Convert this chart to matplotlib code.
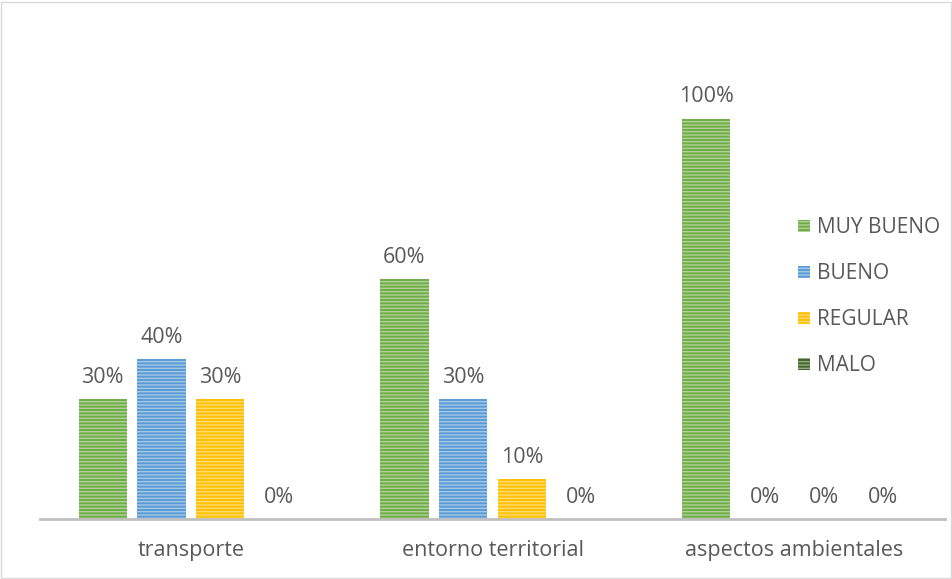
import matplotlib.pyplot as plt
import matplotlib.patches as mpatches
import numpy as np

categorias = ['transporte', 'entorno territorial', 'aspectos ambientales']
series = ['MUY BUENO', 'BUENO', 'REGULAR', 'MALO']
muy_bueno = [0.30, 0.60, 1.00]
bueno = [0.40, 0.30, 0.00]
regular = [0.30, 0.10, 0.00]
malo = [0.00, 0.00, 0.00]
colores = ['#70AD47', '#5B9BD5', '#FFC000', '#43682B']

plt.rcParams['font.family'] = ['Open Sans', 'DejaVu Sans']
plt.rcParams['hatch.linewidth'] = 1.0
texto = '#595959'

fig = plt.figure(figsize=(9.53, 5.79), dpi=100)
ax = fig.add_axes([0.042, 0.1036, 0.95, 0.83])

x = np.arange(len(categorias))
ancho = 0.16
paso = 0.195
valores = [muy_bueno, bueno, regular, malo]

for i, (nombre, vals, col) in enumerate(zip(series, valores, colores)):
    pos = x + (i - 1.5) * paso
    ax.bar(pos, vals, width=ancho, color=col, edgecolor=(1, 1, 1, 0.45),
           hatch='-----', linewidth=0, label=nombre)
    for p, v in zip(pos, vals):
        ax.annotate('%d%%' % round(v * 100), xy=(p, v), xytext=(0, 8),
                    textcoords='offset points', ha='center', va='bottom',
                    fontsize=15.5, color=texto)

ax.set_xlim(-0.5, 2.5)
ax.set_ylim(0, 1.2)
ax.set_xticks(x)
ax.set_xticklabels(categorias, fontsize=15.5, color=texto)
ax.tick_params(axis='x', length=0, pad=15)
ax.set_yticks([])
for s in ['top', 'right', 'left']:
    ax.spines[s].set_visible(False)
ax.spines['bottom'].set_color('#BFBFBF')
ax.spines['bottom'].set_linewidth(2)

handles = [mpatches.Patch(facecolor=c, edgecolor=(1, 1, 1, 0.45), hatch='-----',
                          linewidth=0, label=n) for n, c in zip(series, colores)]
leg = fig.legend(handles=handles, loc='upper left', bbox_to_anchor=(0.818, 0.657),
                 frameon=False, fontsize=15, labelspacing=1.2,
                 handlelength=0.55, handleheight=0.55, handletextpad=0.35)
for t in leg.get_texts():
    t.set_color(texto)

# marco del grafico
fig.patches.append(mpatches.Rectangle((0.001, 0.002), 0.997, 0.995, transform=fig.transFigure,
                                      fill=False, edgecolor='#D9D9D9', linewidth=1))

fig.savefig('out.png', dpi=100)
